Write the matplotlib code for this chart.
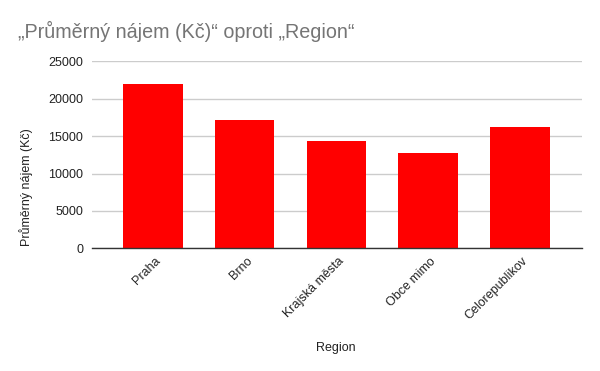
import matplotlib
matplotlib.use("Agg")
import matplotlib.pyplot as plt
import matplotlib.transforms as mtransforms

categories = ["Praha", "Brno", "Krajská města", "Obce mimo", "Celorepublikov"]
values = [22000, 17150, 14400, 12750, 16230]
yticks = [0, 5000, 10000, 15000, 20000, 25000]

plt.rcParams['font.family'] = ['Liberation Sans', 'DejaVu Sans']

fig = plt.figure(figsize=(6, 3.71), dpi=100)
ax = fig.add_axes([0.1528, 0.3307, 0.8167, 0.5041])

x = list(range(len(categories)))
ax.bar(x, values, width=0.65, color='#ff0000', zorder=3)
ax.set_xlim(-0.665, 4.67)
ax.set_ylim(0, 25000)
ax.set_yticks(yticks)
ax.set_yticklabels([str(v) for v in yticks], fontsize=9, color='#222222')
ax.set_xticks(x)
ax.set_xticklabels(categories, rotation=45, ha='right', va='center',
                   rotation_mode='anchor', fontsize=9, color='#222222')
ax.tick_params(axis='both', length=0)
ax.tick_params(axis='x', pad=8)
ax.tick_params(axis='y', pad=6)
offset = mtransforms.ScaledTranslation(6/100, 0, fig.dpi_scale_trans)
for lbl in ax.get_xticklabels():
    lbl.set_transform(lbl.get_transform() + offset)
ax.grid(axis='y', color='#cccccc', linewidth=1, zorder=0)
for s in ['top', 'right', 'left']:
    ax.spines[s].set_visible(False)
ax.spines['bottom'].set_color('#333333')
ax.spines['bottom'].set_linewidth(1)
ax.spines['bottom'].set_zorder(4)

fig.text(0.044, 0.496, "Průměrný nájem (Kč)", fontsize=9, color='#222222',
         rotation=90, ha='center', va='center')
fig.text(0.56, 0.062, "Region", fontsize=9, color='#222222', ha='center', va='center')
fig.text(0.03, 0.915, "„Průměrný nájem (Kč)“ oproti „Region“", fontsize=14.2,
         color='#757575', ha='left', va='center')

fig.savefig("out.png", dpi=100, facecolor='white')
